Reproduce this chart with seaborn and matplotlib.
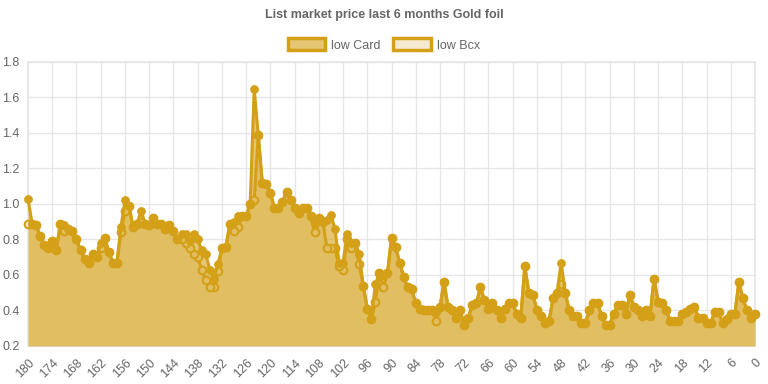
import numpy as np
import pandas as pd
import seaborn as sns
import matplotlib.pyplot as plt
from matplotlib.patches import Patch

# days ago, 180 -> 0
days = np.arange(180, -1, -1)

low_card = [1.03, 0.89, 0.88, 0.82, 0.77, 0.75, 0.79, 0.74, 0.89, 0.88,
            0.86, 0.85, 0.80, 0.74, 0.69, 0.67, 0.72, 0.70, 0.78, 0.81,
            0.73, 0.67, 0.67, 0.87, 1.02, 0.99, 0.87, 0.89, 0.96, 0.89,
            0.88, 0.92, 0.89, 0.89, 0.86, 0.88, 0.85, 0.80, 0.83, 0.83,
            0.79, 0.83, 0.80, 0.74, 0.72, 0.63, 0.58, 0.66, 0.75, 0.76,
            0.89, 0.90, 0.93, 0.93, 0.93, 1.00, 1.65, 1.39, 1.12, 1.11,
            1.06, 0.98, 0.98, 1.01, 1.07, 1.02, 0.98, 0.95, 0.98, 0.98,
            0.93, 0.89, 0.92, 0.90, 0.91, 0.94, 0.86, 0.67, 0.67, 0.83,
            0.78, 0.78, 0.72, 0.54, 0.41, 0.35, 0.55, 0.61, 0.60, 0.61,
            0.81, 0.76, 0.67, 0.59, 0.53, 0.52, 0.44, 0.41, 0.40, 0.40,
            0.40, 0.39, 0.42, 0.56, 0.42, 0.40, 0.36, 0.40, 0.32, 0.36,
            0.43, 0.44, 0.53, 0.46, 0.41, 0.44, 0.40, 0.36, 0.41, 0.44,
            0.44, 0.38, 0.36, 0.65, 0.50, 0.49, 0.40, 0.37, 0.33, 0.34,
            0.47, 0.50, 0.67, 0.50, 0.40, 0.37, 0.37, 0.33, 0.33, 0.40,
            0.44, 0.44, 0.37, 0.32, 0.32, 0.38, 0.43, 0.43, 0.38, 0.49,
            0.42, 0.40, 0.37, 0.40, 0.37, 0.58, 0.45, 0.44, 0.40, 0.34,
            0.34, 0.34, 0.38, 0.39, 0.41, 0.42, 0.36, 0.36, 0.33, 0.33,
            0.39, 0.39, 0.33, 0.35, 0.38, 0.38, 0.56, 0.47, 0.40, 0.36,
            0.38]

low_bcx = [0.89, 0.89, 0.88, 0.82, 0.77, 0.75, 0.79, 0.74, 0.89, 0.85,
           0.86, 0.85, 0.80, 0.74, 0.69, 0.67, 0.72, 0.70, 0.75, 0.81,
           0.73, 0.67, 0.67, 0.84, 0.96, 0.99, 0.87, 0.89, 0.90, 0.89,
           0.88, 0.92, 0.89, 0.89, 0.86, 0.88, 0.85, 0.80, 0.80, 0.78,
           0.75, 0.72, 0.70, 0.63, 0.57, 0.53, 0.53, 0.62, 0.75, 0.76,
           0.89, 0.85, 0.87, 0.93, 0.93, 1.00, 1.02, 1.39, 1.12, 1.11,
           1.06, 0.98, 0.98, 1.01, 1.07, 1.02, 0.98, 0.95, 0.98, 0.98,
           0.93, 0.84, 0.92, 0.90, 0.75, 0.75, 0.75, 0.65, 0.63, 0.80,
           0.75, 0.78, 0.66, 0.54, 0.41, 0.35, 0.45, 0.61, 0.53, 0.61,
           0.81, 0.76, 0.67, 0.59, 0.53, 0.52, 0.44, 0.41, 0.40, 0.40,
           0.40, 0.34, 0.42, 0.56, 0.42, 0.40, 0.36, 0.40, 0.32, 0.36,
           0.43, 0.44, 0.53, 0.46, 0.41, 0.44, 0.40, 0.36, 0.41, 0.44,
           0.44, 0.38, 0.36, 0.65, 0.50, 0.49, 0.40, 0.37, 0.33, 0.34,
           0.47, 0.50, 0.55, 0.50, 0.40, 0.37, 0.37, 0.33, 0.33, 0.40,
           0.44, 0.44, 0.37, 0.32, 0.32, 0.38, 0.43, 0.43, 0.38, 0.49,
           0.42, 0.40, 0.37, 0.40, 0.37, 0.58, 0.45, 0.44, 0.40, 0.34,
           0.34, 0.34, 0.38, 0.39, 0.41, 0.42, 0.36, 0.36, 0.33, 0.33,
           0.39, 0.39, 0.33, 0.35, 0.38, 0.38, 0.56, 0.47, 0.40, 0.36,
           0.38]

x_ticks = np.arange(180, -1, -6)
y_ticks = [0.2, 0.4, 0.6, 0.8, 1.0, 1.2, 1.4, 1.6, 1.8]

def main():
    df = pd.DataFrame({'day': days, 'low Card': low_card, 'low Bcx': low_bcx})

    sns.set_theme(style='white')
    plt.rcParams['font.family'] = ['Liberation Sans', 'DejaVu Sans']

    gold = '#d4a017'
    card_fill = (212/255, 160/255, 23/255, 0.6)
    bcx_fill = (246/255, 235/255, 209/255)
    txt = '#666666'
    grid = '#e6e6e6'

    fig = plt.figure(figsize=(7.68, 3.84), dpi=100)
    ax = fig.add_axes([0.0365, 0.099, 0.9466, 0.7396])

    # low Bcx drawn first, low Card on top
    ax.fill_between(df['day'], 0.2, df['low Bcx'], color=bcx_fill, lw=0, zorder=2)
    sns.lineplot(data=df, x='day', y='low Bcx', ax=ax, color=gold, linewidth=2.2,
                 marker='o', markersize=5.5, markerfacecolor=bcx_fill,
                 markeredgecolor=gold, markeredgewidth=1.5, zorder=3, clip_on=False)
    ax.fill_between(df['day'], 0.2, df['low Card'], color=card_fill, lw=0, zorder=4)
    sns.lineplot(data=df, x='day', y='low Card', ax=ax, color=gold, linewidth=2.2,
                 marker='o', markersize=5.5, markerfacecolor=gold,
                 markeredgecolor=gold, zorder=5, clip_on=False)

    ax.set_xlim(180, 0)
    ax.set_ylim(0.2, 1.8)
    ax.set_xticks(x_ticks)
    ax.set_xticklabels([str(t) for t in x_ticks], rotation=45, ha='right',
                       rotation_mode='anchor', fontsize=9, color=txt)
    ax.set_yticks(y_ticks)
    ax.set_yticklabels(['{:.1f}'.format(t) for t in y_ticks], fontsize=9, color=txt)
    ax.tick_params(axis='both', length=4, width=1, color=grid, pad=2)
    ax.tick_params(axis='x', pad=4)
    ax.grid(True, color=grid, linewidth=1, zorder=0)
    ax.set_axisbelow(True)
    for s in ax.spines.values():
        s.set_color(grid)
    ax.set_xlabel('')
    ax.set_ylabel('')

    fig.text(0.5, 1 - 15/384, 'List market price last 6 months Gold foil',
             ha='center', va='center', fontsize=9, fontweight='bold', color=txt)

    handles = [Patch(facecolor=card_fill, edgecolor=gold, linewidth=2.5, label='low Card'),
               Patch(facecolor=bcx_fill, edgecolor=gold, linewidth=2.5, label='low Bcx')]
    fig.legend(handles=handles, loc='center', bbox_to_anchor=(0.5, 1 - 45/384), ncol=2,
               frameon=False, fontsize=9, labelcolor=txt, handlelength=3.0,
               handleheight=1.1, handletextpad=0.5, columnspacing=1.0)

    fig.savefig('out.png', dpi=100)

if __name__ == '__main__':
    main()
